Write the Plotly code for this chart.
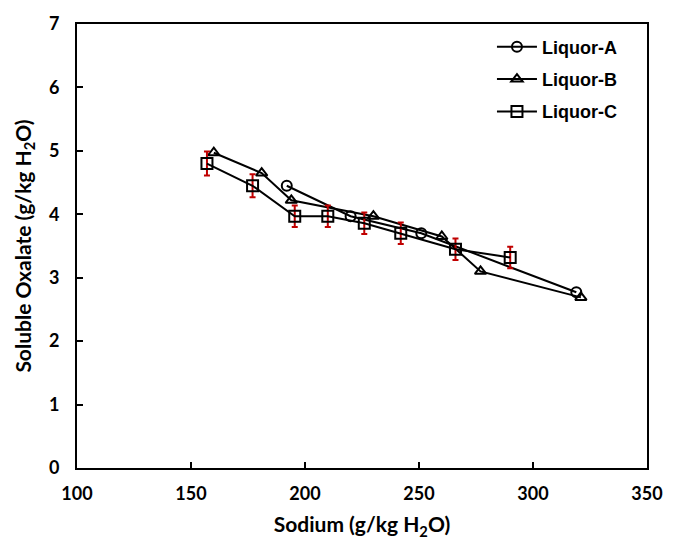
import plotly.graph_objects as go

# Liquor-A (circles)
a_x = [192, 220, 251, 319]
a_y = [4.45, 3.97, 3.70, 2.77]
# Liquor-B (triangles)
b_x = [160, 181, 194, 230, 260, 277, 321]
b_y = [4.97, 4.65, 4.22, 3.97, 3.65, 3.10, 2.69]
# Liquor-C (squares) with error bars
c_x = [157, 177, 195.5, 210, 226, 242, 266, 290]
c_y = [4.80, 4.45, 3.97, 3.97, 3.86, 3.70, 3.45, 3.32]
c_err = [0.19, 0.18, 0.17, 0.17, 0.17, 0.17, 0.17, 0.17]

x_ticks = [100, 150, 200, 250, 300, 350]
y_ticks = [0, 1, 2, 3, 4, 5, 6, 7]

line_style = dict(color="black", width=2)

fig = go.Figure()
fig.add_trace(go.Scatter(
    x=a_x, y=a_y, name="Liquor-A", mode="lines+markers", legendgroup="a",
    line=line_style,
    marker=dict(symbol="circle-open", size=10, color="black", line=dict(width=2, color="black")),
))
fig.add_trace(go.Scatter(
    x=b_x, y=b_y, name="Liquor-B", mode="lines+markers", legendgroup="b",
    line=line_style,
    marker=dict(symbol="triangle-up-open", size=10, color="black", line=dict(width=2, color="black")),
))
fig.add_trace(go.Scatter(
    x=c_x, y=c_y, name="Liquor-C", mode="lines+markers", legendgroup="c",
    line=line_style,
    marker=dict(symbol="square-open", size=11, color="black", line=dict(width=2, color="black")),
    error_y=dict(type="data", array=c_err, visible=True, color="#c00000", thickness=2, width=3),
))

axis_common = dict(
    showline=True, linecolor="black", linewidth=2, mirror=True,
    ticks="inside", ticklen=6, tickwidth=1.5, tickcolor="black",
    showgrid=False, zeroline=False,
    tickfont=dict(family="Lato, sans-serif", size=18, color="black", weight="bold"),
)

fig.update_layout(
    width=675, height=546,
    margin=dict(l=77, r=18, t=16, b=78),
    paper_bgcolor="white", plot_bgcolor="white",
    showlegend=True,
    legend=dict(
        x=0.728, y=0.99, xanchor="left", yanchor="top",
        font=dict(family="Liberation Sans, Arial, sans-serif", size=18, color="black", weight="bold"),
        bgcolor="rgba(0,0,0,0)", tracegroupgap=6, itemwidth=40,
    ),
    xaxis=dict(
        range=[100, 350], tickvals=x_ticks, ticktext=[str(v) for v in x_ticks],
        ticklabelstandoff=8,
        title=dict(text="Sodium (g/kg H<sub>2</sub>O)", standoff=15,
                   font=dict(family="Lato, sans-serif", size=21, color="black", weight="bold")),
        **axis_common,
    ),
    yaxis=dict(
        range=[0, 7], tickvals=y_ticks, ticktext=[str(v) for v in y_ticks],
        ticklabelstandoff=12,
        title=dict(text="Soluble Oxalate (g/kg H<sub>2</sub>O)", standoff=12,
                   font=dict(family="Lato, sans-serif", size=21, color="black", weight="bold")),
        **axis_common,
    ),
)

fig.write_html("out.html")
